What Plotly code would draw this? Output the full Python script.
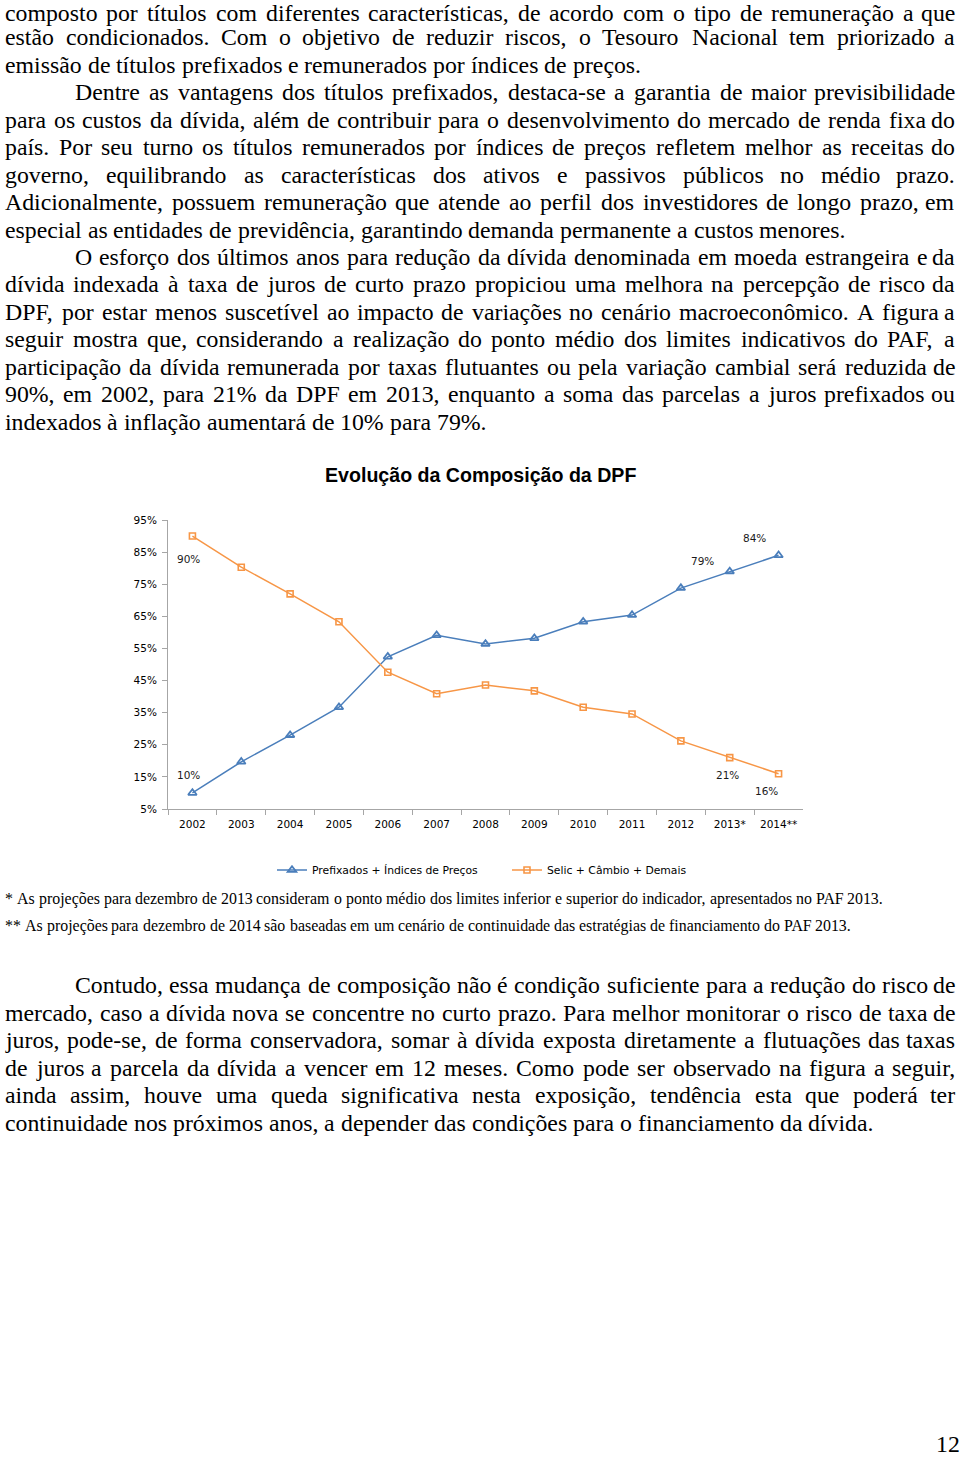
import unicodedata
import plotly.graph_objects as go

W, H = 960, 1457

# ---------------- data ----------------
years = ["2002", "2003", "2004", "2005", "2006", "2007", "2008",
         "2009", "2010", "2011", "2012", "2013*", "2014**"]
prefixados = [10.0, 19.7, 28.0, 36.7, 52.4, 59.1, 56.4, 58.2, 63.3, 65.4, 73.8, 79.0, 84.0]
selic = [90.0, 80.3, 72.0, 63.3, 47.6, 40.9, 43.6, 41.8, 36.7, 34.6, 26.2, 21.0, 16.0]
y_ticks = [5, 15, 25, 35, 45, 55, 65, 75, 85, 95]
y_ticktext = ["5%", "15%", "25%", "35%", "45%", "55%", "65%", "75%", "85%", "95%"]
series_names = ["Prefixados + Índices de Preços", "Selic + Câmbio + Demais"]
chart_title = "Evolução da Composição da DPF"

# text lines: (kind, text)  kind: 'j' justified, 'i' indented+justified, 'l' last line
text_top = [
    ("j", "composto por títulos com diferentes características, de acordo com o tipo de remuneração a que"),
    ("j", "estão condicionados. Com o objetivo de reduzir riscos, o Tesouro Nacional tem priorizado a"),
    ("l", "emissão de títulos prefixados e remunerados por índices de preços."),
    ("i", "Dentre as vantagens dos títulos prefixados, destaca-se a garantia de maior previsibilidade"),
    ("j", "para os custos da dívida, além de contribuir para o desenvolvimento do mercado de renda fixa do"),
    ("j", "país. Por seu turno os títulos remunerados por índices de preços refletem melhor as receitas do"),
    ("j", "governo, equilibrando as características dos ativos e passivos públicos no médio prazo."),
    ("j", "Adicionalmente, possuem remuneração que atende ao perfil dos investidores de longo prazo, em"),
    ("l", "especial as entidades de previdência, garantindo demanda permanente a custos menores."),
    ("i", "O esforço dos últimos anos para redução da dívida denominada em moeda estrangeira e da"),
    ("j", "dívida indexada à taxa de juros de curto prazo propiciou uma melhora na percepção de risco da"),
    ("j", "DPF, por estar menos suscetível ao impacto de variações no cenário macroeconômico. A figura a"),
    ("j", "seguir mostra que, considerando a realização do ponto médio dos limites indicativos do PAF, a"),
    ("j", "participação da dívida remunerada por taxas flutuantes ou pela variação cambial será reduzida de"),
    ("j", "90%, em 2002, para 21% da DPF em 2013, enquanto a soma das parcelas a juros prefixados ou"),
    ("l", "indexados à inflação aumentará de 10% para 79%."),
]
text_bottom = [
    ("i", "Contudo, essa mudança de composição não é condição suficiente para a redução do risco de"),
    ("j", "mercado, caso a dívida nova se concentre no curto prazo. Para melhor monitorar o risco de taxa de"),
    ("j", "juros, pode-se, de forma conservadora, somar à dívida exposta diretamente a flutuações das taxas"),
    ("j", "de juros a parcela da dívida a vencer em 12 meses. Como pode ser observado na figura a seguir,"),
    ("j", "ainda assim, houve uma queda significativa nesta exposição, tendência esta que poderá ter"),
    ("l", "continuidade nos próximos anos, a depender das condições para o financiamento da dívida."),
]
footnotes = [
    "* As projeções para dezembro de 2013 consideram o ponto médio dos limites inferior e superior do indicador, apresentados no PAF 2013.",
    "** As projeções para dezembro de 2014 são baseadas em um cenário de continuidade das estratégias de financiamento do PAF 2013.",
]
footnote_ends = [884, 852]
page_number = "12"

# ---------------- Times metrics (1/1000 em) ----------------
_tw = {' ': 250, '!': 333, '"': 408, '#': 500, '$': 500, '%': 833, '&': 778, "'": 180,
       '(': 333, ')': 333, '*': 500, '+': 564, ',': 250, '-': 333, '.': 250, '/': 278,
       ':': 278, ';': 278, '<': 564, '=': 564, '>': 564, '?': 444, '@': 921}
for d in "0123456789":
    _tw[d] = 500
_up = dict(A=722, B=667, C=667, D=722, E=611, F=556, G=722, H=722, I=333, J=389, K=722,
           L=611, M=889, N=722, O=722, P=556, Q=722, R=667, S=556, T=611, U=722, V=722,
           W=944, X=722, Y=722, Z=611)
_lo = dict(a=444, b=500, c=444, d=500, e=444, f=333, g=500, h=500, i=278, j=278, k=500,
           l=278, m=778, n=500, o=500, p=500, q=500, r=333, s=389, t=278, u=500, v=500,
           w=722, x=500, y=500, z=444)
_tw.update(_up)
_tw.update(_lo)


def tw(s, fs):
    tot = 0
    for ch in s:
        base = unicodedata.normalize("NFD", ch)[0]
        tot += _tw.get(base, 500)
    return tot * fs / 1000.0


annotations = []
SERIF = "Liberation Serif"
ASC, DESC = 0.891, 0.216


def add_line(text, x0, x1, y_base, fs, justify):
    words = text.split()
    widths = [tw(w, fs) for w in words]
    if justify and len(words) > 1:
        gap = (x1 - x0 - sum(widths)) / (len(words) - 1)
    else:
        gap = tw(" ", fs)
    # keep the text box inside the page
    y_base = max(y_base, ASC * fs + 0.3)
    y_base = min(y_base, H - DESC * fs - 0.3)
    yc = y_base - (ASC - DESC) / 2 * fs
    x = x0
    n = len(words)
    for k, (w, wd) in enumerate(zip(words, widths)):
        last = justify and k == n - 1 and n > 1
        annotations.append(dict(text=w, x=(x1 if last else x) / W, y=1 - yc / H,
                                xref="paper", yref="paper",
                                xanchor="right" if last else "left", yanchor="middle",
                                showarrow=False, borderpad=0,
                                font=dict(family=SERIF, size=fs, color="black")))
        x += wd + gap


FS = 23.8
LEFT, RIGHT, INDENT = 4, 956, 74
LH = 27.47


def add_block(lines, base0, lh):
    for i, (kind, txt) in enumerate(lines):
        x0 = INDENT if kind == "i" else LEFT
        add_line(txt, x0, RIGHT, base0 + i * lh, FS, kind != "l")


add_block(text_top, 17.8, LH)
add_block(text_bottom, 993.5, 27.5)

# footnotes
fs_fn = (footnote_ends[0] - LEFT) / tw(footnotes[0], 1000) * 1000
for i, fn in enumerate(footnotes):
    add_line(fn, LEFT, footnote_ends[i], 904 + i * 27.2, fs_fn, True)

# page number
add_line(page_number, 935, 957, 1455, FS, False)

# chart title
annotations.append(dict(text="<b>" + chart_title + "</b>", x=480 / W, y=1 - 475 / H, xref="paper",
                        yref="paper", xanchor="center", yanchor="middle", showarrow=False,
                        font=dict(family="Liberation Sans", size=19.6, color="black")))

# data labels (x given as category index)
LBL = dict(family="DejaVu Sans", size=10.5, color="#1a1a1a")
label_spec = [  # (series, index, xshift, yshift)
    (selic, 0, -4, -23),
    (prefixados, 0, -4, 18),
    (prefixados, 11, -27, 10),
    (prefixados, 12, -24, 17),
    (selic, 11, -2, -17),
    (selic, 12, -12, -17),
]
for ser, idx, xs, ys in label_spec:
    annotations.append(dict(text=f"{round(ser[idx])}%", x=idx, y=ser[idx], xref="x", yref="y",
                            xshift=xs, yshift=ys, showarrow=False, font=LBL))

BLUE = "#4A7EBB"
ORANGE = "#F79646"
fig = go.Figure()
fig.add_trace(go.Scatter(x=years, y=prefixados, mode="lines+markers", name=series_names[0],
                         line=dict(color=BLUE, width=1.5),
                         marker=dict(symbol="triangle-up-open", size=7.5, color=BLUE, line=dict(width=1.8))))
fig.add_trace(go.Scatter(x=years, y=selic, mode="lines+markers", name=series_names[1],
                         line=dict(color=ORANGE, width=1.5),
                         marker=dict(symbol="square-open", size=6, color=ORANGE, line=dict(width=1.6))))

AX = "#A6A6A6"
TICKF = dict(family="DejaVu Sans", size=10.5, color="black")
fig.update_layout(
    width=W, height=H, margin=dict(l=0, r=0, t=0, b=0, autoexpand=False),
    paper_bgcolor="white", plot_bgcolor="white",
    showlegend=True,
    legend=dict(orientation="h", x=272 / W, xanchor="left", y=1 - 870 / H, yanchor="middle",
                font=dict(family="DejaVu Sans", size=10.8, color="black"), itemwidth=30,
                entrywidth=190, entrywidthmode="pixels",
                bgcolor="rgba(0,0,0,0)", traceorder="normal"),
    xaxis=dict(domain=[168 / W, 803 / W], type="category", range=[-0.5, 12.5], tickson="boundaries",
               ticks="outside", ticklen=5, tickcolor=AX, showline=True, linecolor=AX, linewidth=1,
               showgrid=False, zeroline=False, tickfont=TICKF, fixedrange=True,
               ticklabelstandoff=5),
    yaxis=dict(domain=[1 - 809 / H, 1 - 520 / H], range=[5, 95], tickmode="array",
               tickvals=y_ticks, ticktext=y_ticktext,
               ticks="outside", ticklen=5, tickcolor=AX, showline=True, linecolor=AX, linewidth=1,
               showgrid=False, zeroline=False, tickfont=TICKF, fixedrange=True,
               ticklabelstandoff=3),
    annotations=annotations,
)

fig.write_html("out.html", config={"displayModeBar": False},
               post_script="document.body.style.margin='0';document.body.style.overflow='hidden';")
